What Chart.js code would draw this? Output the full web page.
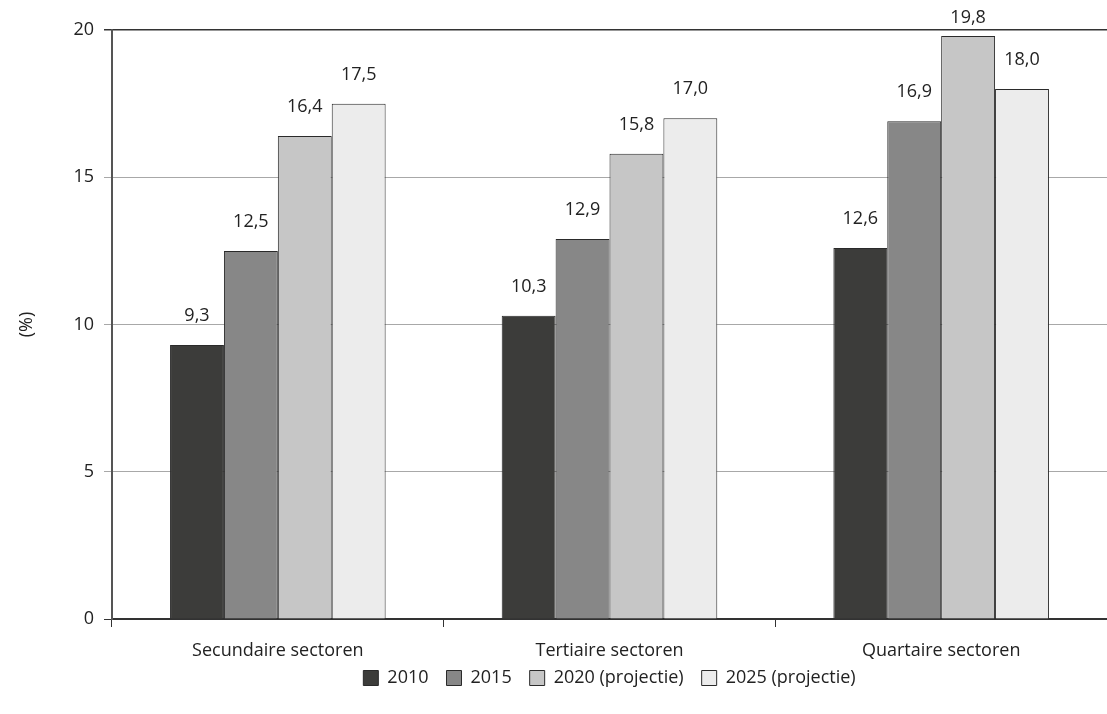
<!DOCTYPE html>
<html>
<head>
<meta charset="utf-8">
<script src="https://cdn.jsdelivr.net/npm/chart.js@4.4.1/dist/chart.umd.min.js"></script>
<style>
  html, body { margin: 0; padding: 0; background: #fff; }
  #wrap { width: 1107px; height: 714px; }
</style>
</head>
<body>
<div id="wrap"><canvas id="chart"></canvas></div>
<script>
// sectoren en jaren
const sectors = ["Secundaire sectoren", "Tertiaire sectoren", "Quartaire sectoren"];
const years = ["2010", "2015", "2020 (projectie)", "2025 (projectie)"];

const v2010 = [9.3, 10.3, 12.6];
const v2015 = [12.5, 12.9, 16.9];
const v2020 = [16.4, 15.8, 19.8];
const v2025 = [17.5, 17.0, 18.0];

const fills = ["#3c3c3a", "#878787", "#c6c6c6", "#ececec"];
const FONT = "'Open Sans', sans-serif";

// waardes boven de staven, met komma
const valueLabels = {
  id: "valueLabels",
  afterDatasetsDraw(chart) {
    const ctx = chart.ctx;
    ctx.save();
    ctx.font = "18px " + FONT;
    ctx.fillStyle = "#222";
    ctx.textAlign = "center";
    ctx.textBaseline = "middle";
    chart.data.datasets.forEach((ds, i) => {
      chart.getDatasetMeta(i).data.forEach((bar, j) => {
        const y = Math.max(bar.y - 29, 18);
        ctx.fillText(ds.data[j].toFixed(1).replace(".", ","), bar.x, y);
      });
    });
    ctx.restore();
  },
};

// legenda dichter op de as en gecentreerd onder het plotvlak
const legendShift = {
  id: "legendShift",
  afterLayout(chart) {
    const lg = chart.legend;
    if (!lg) return;
    const dx = (chart.chartArea.left + chart.chartArea.right) / 2 - chart.width / 2;
    lg.top -= 12;
    lg.bottom -= 12;
    lg.left += dx;
    lg.right += dx;
  },
};

const allValues = [v2010, v2015, v2020, v2025];

const data = {
  labels: sectors,
  datasets: allValues.map((vals, i) => ({
    label: years[i],
    data: vals,
    backgroundColor: fills[i],
    borderColor: "#2a2a2a",
    borderWidth: 1,
    categoryPercentage: 0.65,
    barPercentage: 1.0,
  })),
};

const options = {
  responsive: true,
  maintainAspectRatio: false,
  animation: { duration: 0 },
  layout: { padding: { top: 30, right: 0, left: 0, bottom: 5 } },
  plugins: {
    legend: {
      position: "bottom",
      labels: {
        font: { family: FONT, size: 18 },
        color: "#222",
        boxWidth: 15,
        boxHeight: 15,
        padding: 18,
      },
    },
    tooltip: { enabled: false },
  },
  scales: {
    x: {
      grid: {
        offset: true,
        drawOnChartArea: false,
        drawTicks: true,
        tickLength: 8,
        color: "#333",
      },
      border: { color: "#333", width: 1.5 },
      ticks: { font: { family: FONT, size: 18 }, color: "#222", padding: 13 },
      afterFit: (s) => { s.height = 44; },
    },
    y: {
      min: 0,
      max: 20,
      ticks: { stepSize: 5, font: { family: FONT, size: 18 }, color: "#222", padding: 10 },
      grid: {
        tickLength: 8,
        color: (c) => (c.tick && (c.tick.value === 20 || c.tick.value === 0) ? "#333" : "#a8a8a8"),
        lineWidth: (c) => (c.tick && c.tick.value === 20 ? 1.5 : 1),
      },
      border: { color: "#555", width: 2 },
      title: { display: true, text: "(%)", font: { family: FONT, size: 18 }, color: "#222", padding: { top: 16, bottom: 0 } },
      afterFit: (s) => { s.width = 112; },
    },
  },
};

new Chart(document.getElementById("chart").getContext("2d"), {
  type: "bar",
  data: data,
  options: options,
  plugins: [valueLabels, legendShift],
});
</script>
</body>
</html>
